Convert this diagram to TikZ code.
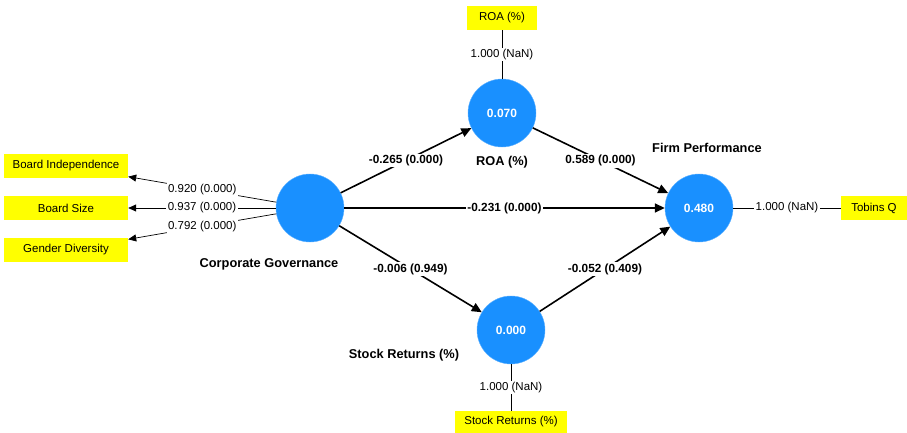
\documentclass[tikz,border=0pt]{standalone}
\usepackage{fontspec}
\setmainfont{Liberation Sans}
\usetikzlibrary{arrows.meta}
\definecolor{lvblue}{HTML}{1990FF}
\definecolor{indyellow}{HTML}{FFFF00}

\begin{document}
\begin{tikzpicture}[x=1pt,y=-1pt,font=\fontsize{11.5}{13}\selectfont,
    lv/.style={circle,fill=lvblue,draw=lvblue!70!white,minimum size=68pt,inner sep=0pt,text=white,font=\fontsize{12}{14}\selectfont\bfseries},
    ind/.style={fill=indyellow,minimum height=24pt,inner sep=0pt},
    lvname/.style={font=\fontsize{12.8}{15}\selectfont\bfseries},
    coef/.style={fill=white,inner sep=1.5pt,font=\fontsize{11.8}{13}\selectfont\bfseries},
    load/.style={fill=white,inner sep=1.5pt},
    sarrow/.style={line width=1.6pt,-{Triangle[length=10pt,width=9pt]}},
    larrow/.style={line width=0.7pt,-{Triangle[length=8pt,width=7pt]}},
    lline/.style={line width=0.7pt}]
\useasboundingbox (0,0) rectangle (907,433);
% latent variables
\node[lv] (cg) at (310,208) {};
\node[lv] (roa) at (502,113) {0.070};
\node[lv] (fp) at (699,208) {0.480};
\node[lv] (sr) at (511,330) {0.000};
\node[lvname] at (269,264) {Corporate Governance};
\node[lvname] at (502,162) {ROA (\%)};
\node[lvname] at (707,148) {Firm Performance};
\node[lvname] at (404,355) {Stock Returns (\%)};
% indicators
\node[ind,minimum width=124pt] (bi) at (66,166) {Board Independence};
\node[ind,minimum width=124pt] (bs) at (66,208) {Board Size};
\node[ind,minimum width=124pt] (gd) at (66,250) {Gender Diversity};
\node[ind,minimum width=70pt] (roai) at (502,18) {ROA (\%)};
\node[ind,minimum width=66pt] (tq) at (874,208) {Tobins Q};
\node[ind,minimum width=112pt,minimum height=22pt] (sri) at (511,422) {Stock Returns (\%)};
% outer loadings
\foreach \ind/\val in {bi/0.920,bs/0.937,gd/0.792}{
    \draw[larrow] (cg) -- node[load]{\val{} (0.000)} (\ind);
}
\draw[lline] (roa) -- node[load]{1.000 (NaN)} (roai);
\draw[lline] (fp) -- node[load]{1.000 (NaN)} (tq);
\draw[lline] (sr) -- node[load]{1.000 (NaN)} (sri);
% paths
\draw[sarrow] (cg) -- node[coef]{-0.265 (0.000)} (roa);
\draw[sarrow] (roa) -- node[coef]{0.589 (0.000)} (fp);
\draw[sarrow] (cg) -- node[coef]{-0.231 (0.000)} (fp);
\draw[sarrow] (cg) -- node[coef]{-0.006 (0.949)} (sr);
\draw[sarrow] (sr) -- node[coef]{-0.052 (0.409)} (fp);
\end{tikzpicture}
\end{document}
